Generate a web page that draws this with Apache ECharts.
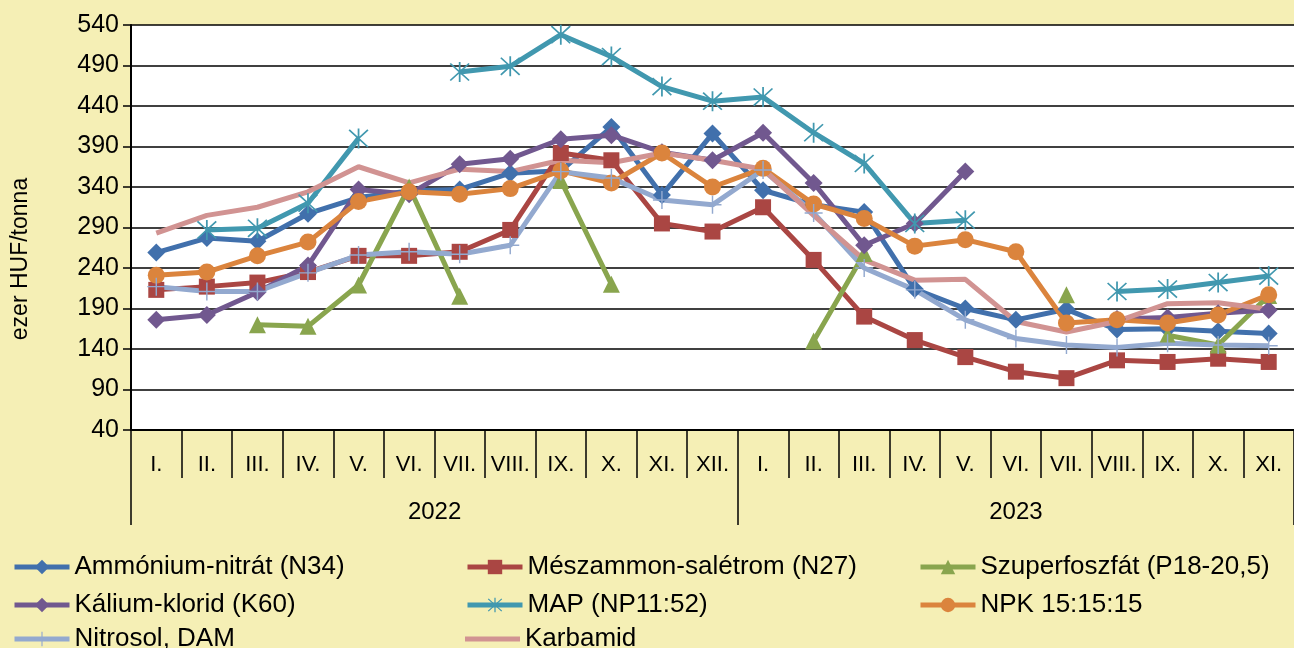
<!DOCTYPE html>
<html>
<head>
<meta charset="utf-8">
<script src="https://cdn.jsdelivr.net/npm/echarts@6/dist/echarts.min.js"></script>
<style>
html,body{margin:0;padding:0;background:#F5EFB5;}
#c{width:1294px;height:648px;}
</style>
</head>
<body>
<div id="c"></div>
<script>
const months = ['I.','II.','III.','IV.','V.','VI.','VII.','VIII.','IX.','X.','XI.','XII.',
                'I.','II.','III.','IV.','V.','VI.','VII.','VIII.','IX.','X.','XI.'];
const years = ['2022','2023'];
const yearSpans = [12, 11];

const ammoniumNitrat = [259,277,273,307,327,335,337,357,360,414,330,406, 336,318,309,214,190,176,189,164,165,162,159];
const meszammon      = [213,217,222,235,255,255,260,287,382,373,295,285, 315,250,180,151,130,112,104,126,124,128,124];
const szuperfoszfat  = [null,null,170,168,219,340,205,null,348,220,null,null, null,150,258,null,null,null,207,null,157,145,206];
const kaliumKlorid   = [176,182,210,243,337,331,368,375,399,404,383,373, 407,345,268,295,359,null,null,177,179,184,188];
const map            = [null,287,289,320,400,null,482,489,528,501,464,446, 451,407,369,295,299,null,null,211,214,222,230];
const npk            = [231,235,255,272,322,334,331,338,360,345,382,340, 363,319,301,267,275,260,172,176,172,182,207];
const nitrosol       = [217,211,211,234,256,260,257,268,359,351,324,318, 361,308,240,213,176,153,145,142,147,145,144];
const karbamid       = [283,305,315,334,365,345,362,359,373,370,382,373, 362,305,250,225,226,174,161,174,196,197,189];

const yMin = 40, yMax = 540, yStep = 50;

const asterisk = 'path://M9.2,0h1.6v20h-1.6z M0.9,2.0L2.0,0.9L19.1,18.0L18.0,19.1z M18.0,0.9L19.1,2.0L2.0,19.1L0.9,18.0z';
const plus = 'path://M9.2,0h1.6v20h-1.6z M0,9.2h20v1.6h-20z';

function mk(name, data, color, symbol, size) {
  return {
    name, type: 'line', data,
    symbol: symbol || 'none', symbolSize: size || 0,
    showSymbol: !!symbol,
    lineStyle: { color, width: 5 },
    itemStyle: { color, borderWidth: 0 },
    connectNulls: false,
    animation: false
  };
}

const yearLabelIdx = {}; let start = 0;
years.forEach((y, k) => {
  const c = start + (yearSpans[k] - 1) / 2;
  yearLabelIdx[Math.floor(c)] = { text: y, shift: c % 1 !== 0 };
  start += yearSpans[k];
});
const yearBounds = [0]; start = 0;
yearSpans.forEach(s => { start += s; yearBounds.push(start); });

const FONT = 'Liberation Sans, Arial';
const legendItems = [
  ['Ammónium-nitrát (N34)', 12, 0], ['Mészammon-salétrom (N27)', 465, 0], ['Szuperfoszfát (P18-20,5)', 918, 0],
  ['Kálium-klorid (K60)', 12, 1], ['MAP (NP11:52)', 465, 1], ['NPK 15:15:15', 918, 1],
  ['Nitrosol, DAM', 12, 2], ['Karbamid', 465, 2]
];
const rowCenters = [565, 603, 637];
const legends = legendItems.map(([name, left, row]) => {
  const plain = name === 'Karbamid';
  const h = plain ? 5 : 18;
  return {
    left, top: rowCenters[row] - 11, height: 30, padding: 0, orient: 'horizontal',
    itemWidth: 55, itemHeight: h, itemGap: 0,
    textStyle: { fontFamily: FONT, fontSize: 26, color: '#000' },
    lineStyle: { width: 5 },
    itemStyle: { borderWidth: 0 }, selectedMode: false,
    data: [plain ? { name, icon: 'rect' } : name]
  };
});

const chart = echarts.init(document.getElementById('c'));
chart.setOption({
  backgroundColor: '#F5EFB5',
  textStyle: { fontFamily: FONT },
  grid: { left: 131, right: 0, top: 25, bottom: 218, show: true, backgroundColor: '#fff', borderWidth: 0 },
  graphic: [{
    type: 'text', x: 21, y: 259, rotation: Math.PI / 2,
    style: { text: 'ezer HUF/tonna', fontSize: 23, fill: '#000', fontFamily: FONT, align: 'center', verticalAlign: 'middle' }
  }],
  xAxis: [{
    type: 'category', data: months, boundaryGap: true, position: 'bottom',
    axisLine: { show: true, lineStyle: { color: '#000', width: 2 } },
    axisTick: { show: true, interval: 0, length: 48, lineStyle: { color: '#000', width: 1.5 } },
    axisLabel: { show: true, interval: 0, margin: 24, fontSize: 22, color: '#000' },
    splitLine: { show: false }
  }, {
    type: 'category', data: months, boundaryGap: true, position: 'bottom',
    axisLine: { show: false },
    axisTick: { show: true, interval: (i) => yearBounds.indexOf(i) >= 0, length: 95, lineStyle: { color: '#000', width: 1.5 } },
    axisLabel: {
      show: true, interval: (i) => yearLabelIdx[i] !== undefined, margin: 70, fontSize: 24, color: '#000',
      formatter: (v, i) => { const y = yearLabelIdx[i]; return y ? (y.shift ? '{s|' + y.text + '}' : '{n|' + y.text + '}') : ''; },
      rich: { s: { fontSize: 24, padding: [0, 0, 0, 51], color: '#000' }, n: { fontSize: 24, color: '#000' } }
    },
    splitLine: { show: false }
  }],
  yAxis: {
    type: 'value', min: yMin, max: yMax, interval: yStep,
    axisLine: { show: true, lineStyle: { color: '#000', width: 2 } },
    axisTick: { show: true, length: 8, lineStyle: { color: '#000', width: 1.5 } },
    axisLabel: { fontSize: 25, color: '#000', margin: 12 },
    splitLine: { show: true, lineStyle: { color: '#000', width: 1.6 } }
  },
  legend: legends,
  series: [
    mk('Ammónium-nitrát (N34)', ammoniumNitrat, '#4170AC', 'diamond', 18),
    mk('Mészammon-salétrom (N27)', meszammon, '#AA4643', 'rect', 16),
    mk('Szuperfoszfát (P18-20,5)', szuperfoszfat, '#89A54E', 'triangle', 17),
    mk('Kálium-klorid (K60)', kaliumKlorid, '#71588F', 'diamond', 18),
    mk('MAP (NP11:52)', map, '#4198AF', asterisk, 20),
    mk('NPK 15:15:15', npk, '#DB843D', 'circle', 17),
    mk('Nitrosol, DAM', nitrosol, '#93A9CF', plus, 18),
    mk('Karbamid', karbamid, '#D19392', null, 0)
  ]
});
</script>
</body>
</html>
